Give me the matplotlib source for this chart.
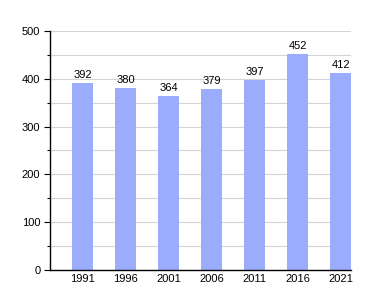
import matplotlib
matplotlib.use("Agg")
import matplotlib.pyplot as plt

# donnees
annees = ["1991", "1996", "2001", "2006", "2011", "2016", "2021"]
population = [392, 380, 364, 379, 397, 452, 412]

plt.rcParams["font.family"] = ["Liberation Sans", "DejaVu Sans"]

fig = plt.figure(figsize=(3.8, 3.0), dpi=100)
ax = fig.add_axes([0.1316, 0.1, 0.7924, 0.797])

x = list(range(len(annees)))
ax.bar(x, population, width=0.49, color="#9aacfb", zorder=2)
for xi, v in zip(x, population):
    ax.text(xi, v + 6, str(v), ha="center", va="bottom", fontsize=8, color="black")

ax.set_xlim(-0.76, 6.24)
ax.set_ylim(0, 500)
ax.set_yticks(range(0, 501, 100))
ax.set_yticks(range(50, 500, 100), minor=True)
ax.set_xticks(x)
ax.set_xticklabels(annees)
ax.tick_params(axis="both", labelsize=8, colors="black")
ax.tick_params(axis="x", length=0, pad=3)
ax.tick_params(axis="y", which="major", length=4, width=0.8, pad=3)
ax.tick_params(axis="y", which="minor", length=2, width=0.8)
ax.grid(axis="y", which="both", color="#d4d4d4", linewidth=0.8, zorder=0)
ax.spines["top"].set_visible(False)
ax.spines["right"].set_visible(False)
ax.spines["left"].set_linewidth(1)
ax.spines["bottom"].set_linewidth(1)

fig.savefig("out.png", dpi=100)
